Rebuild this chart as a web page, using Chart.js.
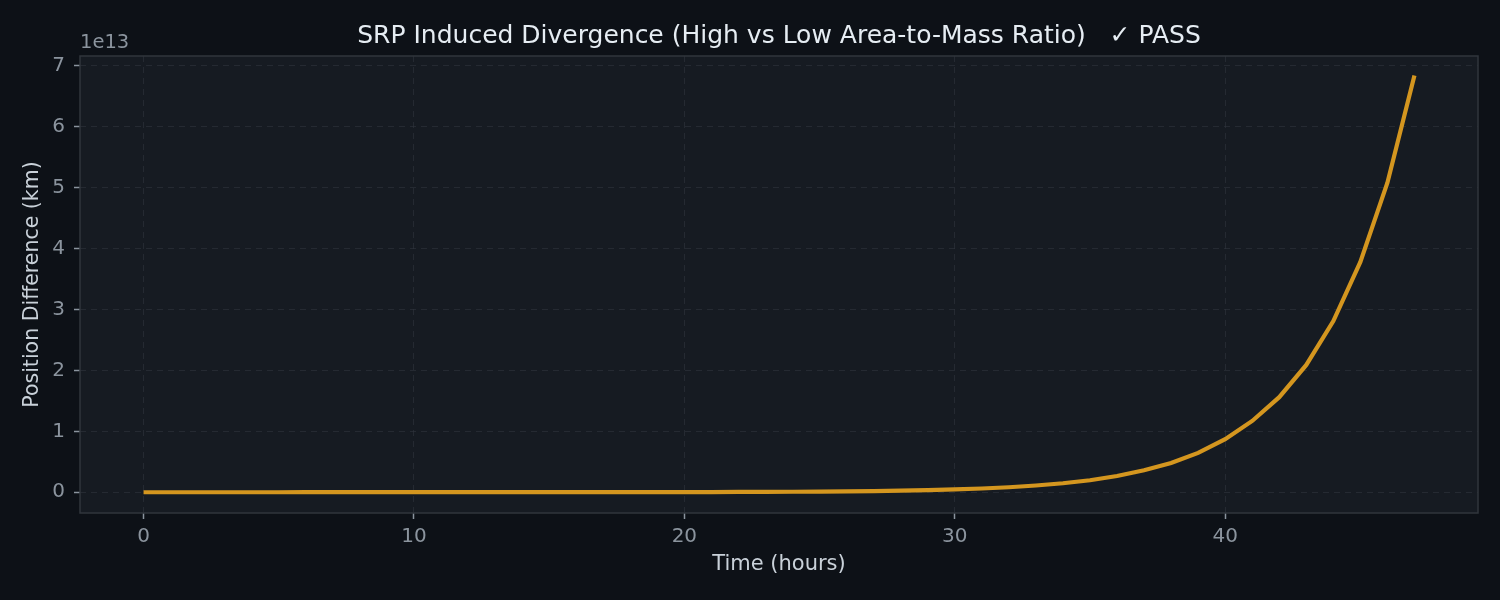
<!DOCTYPE html>
<html>
<head>
<meta charset="utf-8">
<script src="https://cdn.jsdelivr.net/npm/chart.js@4.4.1/dist/chart.umd.min.js"></script>
<style>
  html, body { margin: 0; padding: 0; background: #0d1117; }
  canvas { display: block; }
</style>
</head>
<body>
<canvas id="srpChart" width="1500" height="600"></canvas>
<script>
// Data
const hours = [0, 1, 2, 3, 4, 5, 6, 7, 8, 9, 10, 11, 12, 13, 14, 15, 16, 17, 18, 19,
  20, 21, 22, 23, 24, 25, 26, 27, 28, 29, 30, 31, 32, 33, 34, 35, 36, 37, 38, 39,
  40, 41, 42, 43, 44, 45, 46, 47];
const diffKm = [0, 5e7, 1e8, 1.5e8, 2e8, 3e8, 4e8, 5e8, 7e8, 1e9,
  1.3e9, 1.7e9, 2.3e9, 3e9, 4e9, 5.5e9, 7e9, 1e10, 1.3e10, 1.8e10,
  2.4e10, 3.2e10, 4.3e10, 5.8e10, 7.8e10, 1.05e11, 1.4e11, 1.9e11, 2.5e11, 3.4e11,
  4.6e11, 6.1e11, 8.2e11, 1.1e12, 1.47e12, 1.97e12, 2.66e12, 3.6e12, 4.8e12, 6.45e12,
  8.7e12, 1.17e13, 1.56e13, 2.09e13, 2.81e13, 3.78e13, 5.08e13, 6.84e13];
const xTicks = [0, 10, 20, 30, 40];
const yTicks = [0, 1e13, 2e13, 3e13, 4e13, 5e13, 6e13, 7e13];

const titleText = 'SRP Induced Divergence (High vs Low Area-to-Mass Ratio)   \u2713 PASS';
const FONT = "'DejaVu Sans', sans-serif";

// figure + axes backgrounds, frame, title, offset text
const frame = {
  id: 'frame',
  beforeDraw(chart) {
    const { ctx, chartArea: a } = chart;
    ctx.save();
    ctx.fillStyle = '#0d1117';
    ctx.fillRect(0, 0, chart.width, chart.height);
    ctx.fillStyle = '#161b22';
    ctx.fillRect(a.left, a.top, a.right - a.left, a.bottom - a.top);
    ctx.restore();
  },
  afterDraw(chart) {
    const { ctx, chartArea: a } = chart;
    ctx.save();
    ctx.strokeStyle = '#30363d';
    ctx.lineWidth = 1.5;
    ctx.strokeRect(a.left, a.top, a.right - a.left, a.bottom - a.top);
    ctx.fillStyle = '#e6edf3';
    ctx.font = '25px ' + FONT;
    ctx.textAlign = 'center';
    ctx.textBaseline = 'middle';
    ctx.fillText(titleText, (a.left + a.right) / 2, 36);
    ctx.fillStyle = '#8b949e';
    ctx.font = '19.5px ' + FONT;
    ctx.textAlign = 'left';
    ctx.fillText('1e13', a.left, 43);
    ctx.restore();
  }
};

const points = hours.map((h, i) => ({ x: h, y: diffKm[i] }));

new Chart('srpChart', {
  type: 'line',
  data: {
    datasets: [{
      data: points,
      borderColor: '#d4961f',
      borderWidth: 4.2,
      pointRadius: 0,
      tension: 0,
      fill: false
    }]
  },
  options: {
    responsive: false,
    animation: false,
    devicePixelRatio: 1,
    layout: { padding: { left: 0, top: 56, right: 22, bottom: 0 } },
    plugins: { legend: { display: false }, tooltip: { enabled: false } },
    scales: {
      x: {
        type: 'linear',
        min: -2.35,
        max: 49.35,
        afterBuildTicks: scale => { scale.ticks = xTicks.map(v => ({ value: v })); },
        afterFit: scale => { scale.height = 87; },
        grid: { color: '#30363d99', lineWidth: 1, tickLength: 6, tickColor: '#8b949e', tickWidth: 1.5 },
        border: { display: false, dash: [6, 5] },
        ticks: { color: '#8b949e', font: { family: FONT, size: 20 }, padding: 6, maxRotation: 0 },
        title: { display: true, text: 'Time (hours)', color: '#c9d1d9', font: { family: FONT, size: 21 }, padding: { top: 0, bottom: 23 } }
      },
      y: {
        min: -0.341e13,
        max: 7.161e13,
        afterBuildTicks: scale => { scale.ticks = yTicks.map(v => ({ value: v })); },
        afterFit: scale => { scale.width = 80; },
        grid: { color: '#30363d99', lineWidth: 1, tickLength: 6, tickColor: '#8b949e', tickWidth: 1.5 },
        border: { display: false, dash: [6, 5] },
        ticks: { color: '#8b949e', font: { family: FONT, size: 20 }, padding: 9, callback: v => String(Math.round(v / 1e13)) },
        title: { display: true, text: 'Position Difference (km)', color: '#c9d1d9', font: { family: FONT, size: 20.5 }, padding: { top: 20, bottom: 0 } }
      }
    }
  },
  plugins: [frame]
});
</script>
</body>
</html>
